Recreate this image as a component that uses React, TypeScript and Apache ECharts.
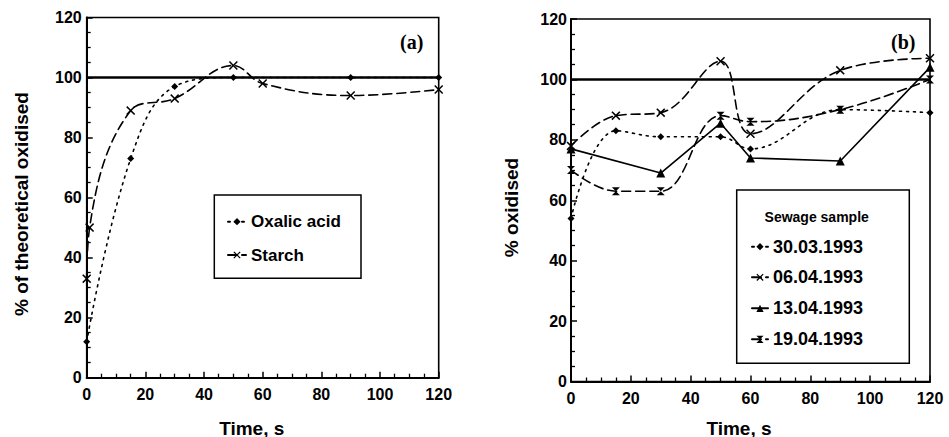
import React, { useEffect, useRef } from "react";
import * as echarts from "echarts";

// ---- data ----
const timeOxalic = [0, 15, 30, 50, 90, 120];
const oxalicAcid = [12, 73, 97, 100, 100, 100];
const timeStarch = [0, 1, 15, 30, 50, 60, 90, 120];
const starch = [33, 50, 89, 93, 104, 98, 94, 96];

const timeSewage = [0, 15, 30, 50, 60, 90, 120];
const sample300393 = [54, 83, 81, 81, 77, 90, 89];
const sample060493 = [78, 88, 89, 106, 82, 103, 107];
const time130493 = [0, 30, 50, 60, 90, 120];
const sample130493 = [77, 69, 85.5, 74, 73, 104];
const sample190493 = [70, 63, 63, 88, 86, 90, 100];

const referenceLevel = 100;
const axisMin = 0;
const axisMax = 120;
const axisStep = 20;

const seriesNamesA = ["Oxalic acid", "Starch"];
const seriesNamesB = ["30.03.1993", "06.04.1993", "13.04.1993", "19.04.1993"];

const zip = (xs: number[], ys: number[]) => xs.map((x, i) => [x, ys[i]]);

const FONT = '"Liberation Sans", Arial, sans-serif';
const XMARK = "path://M1.2,0L5,3.8L8.8,0L10,1.2L6.2,5L10,8.8L8.8,10L5,6.2L1.2,10L0,8.8L3.8,5L0,1.2Z";
const HOURGLASS = "path://M0,0L10,0L5,5L10,10L0,10L5,5Z";

const DOTTED = [2, 5];
const DASHED = [9, 5];

function makeSeries(
  name: string,
  data: number[][],
  gi: number,
  dash: any,
  symbol: string,
  symbolSize: number,
  smooth: number | boolean,
  withRef: boolean
) {
  const s: any = {
    name,
    type: "line",
    xAxisIndex: gi,
    yAxisIndex: gi,
    data,
    smooth,
    symbol,
    symbolSize,
    showSymbol: true,
    color: "#000",
    itemStyle: { color: "#000" },
    lineStyle: { color: "#000", width: 1.6, type: dash, cap: "round" },
    z: 3,
  };
  if (withRef) {
    s.markLine = {
      silent: true,
      symbol: "none",
      label: { show: false },
      lineStyle: { color: "#000", width: 2.6, type: "solid" },
      data: [{ yAxis: referenceLevel }],
    };
  }
  return s;
}

function axisCommon(gi: number) {
  return {
    gridIndex: gi,
    type: "value",
    min: axisMin,
    max: axisMax,
    interval: axisStep,
    axisLine: { show: true, onZero: false, lineStyle: { color: "#000", width: 2 } },
    axisTick: { show: true, inside: true, length: 6, lineStyle: { color: "#000", width: 1.5 } },
    minorTick: { show: true, splitNumber: 4, length: 4, lineStyle: { color: "#000", width: 1.3 } },
    splitLine: { show: false },
    minorSplitLine: { show: false },
  };
}

const labelStyle = { color: "#000", fontSize: 16, fontWeight: "bold", fontFamily: FONT };

function legendItem(name: string, left: number, centerY: number, fontSize: number, iconW: number) {
  return {
    data: [name],
    orient: "horizontal",
    left,
    top: centerY - fontSize / 2,
    padding: 0,
    itemWidth: iconW,
    itemHeight: 9,
    itemGap: 0,
    selectedMode: false,
    textStyle: { color: "#000", fontSize, fontWeight: "bold", fontFamily: FONT, padding: [0, 0, 0, 0] },
  };
}

export default function App() {
  const ref = useRef<HTMLDivElement>(null);
  useEffect(() => {
    if (!ref.current) return;
    const chart = echarts.init(ref.current, null, { renderer: "svg" });
    const option: any = {
      animation: false,
      backgroundColor: "#fff",
      grid: [
        { left: 86.7, top: 17.5, width: 352, height: 360.2, show: true, borderColor: "#000", borderWidth: 1.6, backgroundColor: "transparent" },
        { left: 571, top: 19, width: 359, height: 362.5, show: true, borderColor: "#000", borderWidth: 1.6, backgroundColor: "transparent" },
      ],
      xAxis: [
        { ...axisCommon(0), position: "bottom", axisLabel: { ...labelStyle, margin: 9 } },
        { ...axisCommon(1), position: "bottom", axisLabel: { ...labelStyle, margin: 9 } },
      ],
      yAxis: [
        { ...axisCommon(0), position: "left", axisLabel: { ...labelStyle, margin: 5 } },
        { ...axisCommon(1), position: "left", axisLabel: { ...labelStyle, margin: 4 } },
      ],
      legend: [
        legendItem(seriesNamesA[0], 227, 221.7, 17, 18),
        legendItem(seriesNamesA[1], 227, 255, 17, 18),
        legendItem(seriesNamesB[0], 751, 246.7, 18, 16),
        legendItem(seriesNamesB[1], 751, 277.3, 18, 16),
        legendItem(seriesNamesB[2], 751, 308.3, 18, 16),
        legendItem(seriesNamesB[3], 751, 339.3, 18, 16),
      ],
      series: [
        makeSeries(seriesNamesA[0], zip(timeOxalic, oxalicAcid), 0, DOTTED, "diamond", 7, 0.4, true),
        makeSeries(seriesNamesA[1], zip(timeStarch, starch), 0, DASHED, XMARK, 9, 0.4, false),
        makeSeries(seriesNamesB[0], zip(timeSewage, sample300393), 1, DOTTED, "diamond", 7, 0.4, true),
        makeSeries(seriesNamesB[1], zip(timeSewage, sample060493), 1, DASHED, XMARK, 9, 0.4, false),
        makeSeries(seriesNamesB[2], zip(time130493, sample130493), 1, "solid", "triangle", 9, false, false),
        makeSeries(seriesNamesB[3], zip(timeSewage, sample190493), 1, DASHED, HOURGLASS, 8, 0.4, false),
      ],
      graphic: [
        { type: "rect", z: 1, shape: { x: 214.3, y: 195, width: 146.7, height: 83.3 }, style: { fill: "#fff", stroke: "#000", lineWidth: 1.5 } },
        { type: "rect", z: 1, shape: { x: 736.7, y: 190, width: 172.6, height: 173.3 }, style: { fill: "#fff", stroke: "#000", lineWidth: 1.5 } },
        { type: "text", z: 5, x: 816.7, y: 216.7, style: { text: "Sewage sample", fill: "#000", font: `bold 14px ${FONT}`, textAlign: "center", textVerticalAlign: "middle" } },
        { type: "text", z: 5, x: 411.7, y: 42.3, style: { text: "(a)", fill: "#000", font: 'bold 20px "Liberation Serif", "Times New Roman", serif', textAlign: "center", textVerticalAlign: "middle" } },
        { type: "text", z: 5, x: 903.3, y: 41.7, style: { text: "(b)", fill: "#000", font: 'bold 20px "Liberation Serif", "Times New Roman", serif', textAlign: "center", textVerticalAlign: "middle" } },
        { type: "text", z: 5, x: 251.7, y: 428, style: { text: "Time, s", fill: "#000", font: `bold 19px ${FONT}`, textAlign: "center", textVerticalAlign: "middle" } },
        { type: "text", z: 5, x: 739, y: 428, style: { text: "Time, s", fill: "#000", font: `bold 19px ${FONT}`, textAlign: "center", textVerticalAlign: "middle" } },
        { type: "text", z: 5, x: 21.7, y: 204, rotation: Math.PI / 2, style: { text: "% of theoretical oxidised", fill: "#000", font: `bold 19px ${FONT}`, textAlign: "center", textVerticalAlign: "middle" } },
        { type: "text", z: 5, x: 511.7, y: 207.5, rotation: Math.PI / 2, style: { text: "% oxidised", fill: "#000", font: `bold 19px ${FONT}`, textAlign: "center", textVerticalAlign: "middle" } },
      ],
    };
    chart.setOption(option);
    return () => chart.dispose();
  }, []);
  return <div ref={ref} style={{ position: "fixed", left: 0, top: 0, width: 949, height: 437 }} />;
}
